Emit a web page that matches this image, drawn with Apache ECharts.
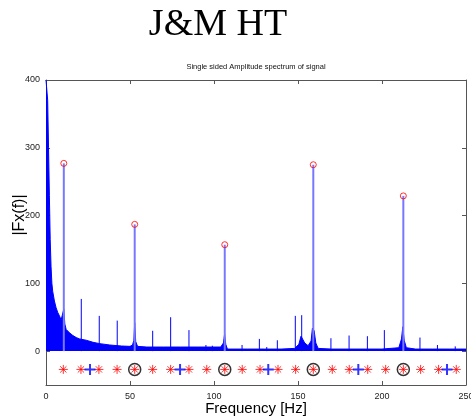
<!DOCTYPE html>
<html><head><meta charset="utf-8">
<script src="https://cdn.jsdelivr.net/npm/echarts@6/dist/echarts.min.js"></script>
<style>html,body{margin:0;padding:0;background:#fff}#c{width:471px;height:420px}</style>
</head><body><div id="c"></div>
<script>
// ---- data ----
const noiseFreq  = [0, 0.5, 1, 1.5, 2, 2.5, 3, 3.5, 4, 5, 6, 7, 8, 9, 10, 10.6, 11.2, 12, 14, 16, 18, 20, 24, 28, 32, 38, 45, 50, 51.5, 52.3, 52.8, 53.4, 54.5, 60, 70, 80, 90, 100, 104, 105.6, 106.3, 107, 108, 120, 130, 140, 148, 150.5, 151.8, 152.6, 154, 156, 157.8, 158.6, 159.6, 160.6, 162, 170, 180, 190, 200, 210, 211.6, 212.4, 213.2, 214.5, 220, 230, 240, 250];
const noiseUpper = [400, 400, 370, 300, 230, 165, 125, 100, 88, 74, 64, 57, 52, 46, 48, 62, 40, 32, 27, 23, 20, 18, 16, 13, 11, 9, 7.5, 7, 9, 16, 42, 14, 7, 6, 6, 6, 6, 6, 6, 12, 25, 10, 3, 3, 3, 3, 4, 10, 22, 24, 12, 8, 15, 34, 30, 12, 4, 3, 3, 3, 3, 5, 18, 36, 16, 5, 3, 3, 3, 3];
const peakFreq  = [10.6, 52.8, 106.4, 159.1, 212.7];
const peakAmp   = [277, 187, 157, 275, 229];
const minorFreq = [21, 31.7, 42.4, 63.5, 74.2, 85.1, 95.2, 99, 116.7, 127, 131.4, 137.7, 148.4, 152.2, 169.6, 180.4, 191.3, 201.4, 222.6, 233, 243.6];
const minorAmp  = [77, 52, 45, 30, 50, 31, 9, 8, 9, 18, 6, 16, 52, 53, 19, 23, 22, 31, 20, 9, 7];
const starFreq  = [10.3, 20.8, 31.5, 42.3, 52.8, 63.5, 74.2, 85.1, 95.7, 106.4, 116.8, 127.4, 138.1, 148.6, 159.1, 170.4, 180.5, 191.5, 202.2, 212.7, 223, 233.7, 244.2];
const plusFreq  = [26.2, 79.8, 132.3, 185.9, 238.7];
const ringFreq  = [52.8, 106.4, 159.1, 212.7];
const markerRowY = -27;
const xTicks = [0, 50, 100, 150, 200, 250];
const yTicks = [0, 100, 200, 300, 400];

// ---- chart ----
const chart = echarts.init(document.getElementById('c'), null, {renderer: 'canvas'});
const axisColor = '#555';
const lblFont = {color: '#222', fontSize: 9, fontFamily: 'Liberation Sans'};

function spikeSeries(freqs, amps, color, width, z) {
  return {
    type: 'custom', coordinateSystem: 'cartesian2d', xAxisIndex: 0, yAxisIndex: 0, z: z, silent: true,
    data: freqs.map((f, i) => [f, amps[i]]),
    renderItem: function (params, api) {
      const p0 = api.coord([api.value(0), 0]);
      const p1 = api.coord([api.value(0), api.value(1)]);
      return {type: 'line', shape: {x1: p0[0], y1: p0[1], x2: p1[0], y2: p1[1]},
              style: {stroke: color, lineWidth: width}};
    }
  };
}

const starPath = 'path://M5,0L5,10M0,5L10,5M1.5,1.5L8.5,8.5M1.5,8.5L8.5,1.5';
const plusPath = 'path://M5,0L5,10M0,5L10,5';

function mkAxisLine() { return {show: true, onZero: false, lineStyle: {color: axisColor, width: 1}}; }

chart.setOption({
  animation: false,
  backgroundColor: '#fff',
  grid: {left: 46, right: 5, top: 80, bottom: 35, containLabel: false, outerBoundsMode: 'none'},
  xAxis: [{
    type: 'value', min: 0, max: 250, interval: 50, position: 'bottom',
    axisLine: mkAxisLine(),
    axisTick: {show: true, inside: true, length: 4, lineStyle: {color: axisColor}, customValues: xTicks},
    axisLabel: Object.assign({margin: 7, customValues: xTicks}, lblFont),
    splitLine: {show: false},
    name: 'Frequency [Hz]', nameLocation: 'middle', nameGap: 16, nameMoveOverlap: false,
    nameTextStyle: {fontSize: 15, color: '#000', fontFamily: 'Liberation Sans'}
  }, {
    type: 'value', min: 0, max: 250, interval: 50, position: 'top',
    axisLine: mkAxisLine(),
    axisTick: {show: true, inside: true, length: 4, lineStyle: {color: axisColor}, customValues: xTicks},
    axisLabel: {show: false}, splitLine: {show: false}
  }],
  yAxis: [{
    type: 'value', min: -50, max: 400, position: 'left',
    axisLine: mkAxisLine(),
    axisTick: {show: true, inside: true, length: 4, lineStyle: {color: axisColor}, customValues: yTicks},
    axisLabel: Object.assign({margin: 6, customValues: yTicks}, lblFont),
    splitLine: {show: false}
  }, {
    type: 'value', min: -50, max: 400, position: 'right',
    axisLine: mkAxisLine(),
    axisTick: {show: true, inside: true, length: 4, lineStyle: {color: axisColor}, customValues: yTicks},
    axisLabel: {show: false}, splitLine: {show: false}
  }],
  graphic: [
    {type: 'text', x: 218, y: 25, style: {text: 'J&M HT', font: '38px "Liberation Serif"', fill: '#000', textAlign: 'center', textVerticalAlign: 'middle'}},
    {type: 'text', x: 256, y: 67, style: {text: 'Single sided Amplitude spectrum of signal', font: '7.5px "Liberation Sans"', fill: '#111', textAlign: 'center', textVerticalAlign: 'middle'}},
    {type: 'text', x: 20, y: 215, rotation: Math.PI / 2, style: {text: '|Fx(f)|', font: '16px "Liberation Sans"', fill: '#000', textAlign: 'center', textVerticalAlign: 'middle'}}
  ],
  series: [
    {
      type: 'line', symbol: 'none', silent: true, z: 2,
      data: noiseFreq.map((f, i) => [f, noiseUpper[i]]),
      lineStyle: {color: '#0000ff', width: 1},
      areaStyle: {color: '#0000ff', opacity: 1}
    },
    spikeSeries(minorFreq, minorAmp, '#0000ff', 1, 3),
    spikeSeries(peakFreq, peakAmp, '#7878ff', 2, 4),
    {
      type: 'scatter', z: 5, silent: true, symbol: 'circle', symbolSize: 6,
      data: peakFreq.map((f, i) => [f, peakAmp[i]]),
      itemStyle: {color: 'transparent', borderColor: '#ff0000', borderWidth: 1}
    },
    {
      type: 'scatter', z: 5, silent: true, symbol: 'circle', symbolSize: 12,
      data: ringFreq.map(f => [f, markerRowY]),
      itemStyle: {color: 'transparent', borderColor: '#000', borderWidth: 1.5}
    },
    {
      type: 'scatter', z: 6, silent: true, symbol: starPath, symbolSize: 9,
      data: starFreq.map(f => [f, markerRowY]),
      itemStyle: {color: 'transparent', borderColor: '#ff0000', borderWidth: 1}
    },
    {
      type: 'scatter', z: 7, silent: true, symbol: plusPath, symbolSize: 11,
      data: plusFreq.map(f => [f, markerRowY]),
      itemStyle: {color: 'transparent', borderColor: '#0000ff', borderWidth: 2}
    }
  ]
});
</script>
</body></html>
